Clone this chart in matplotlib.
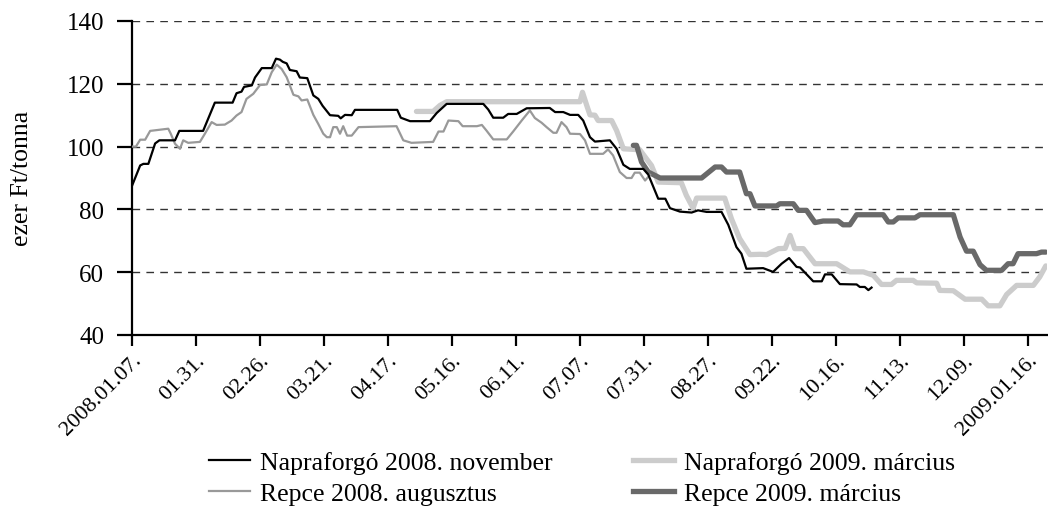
import matplotlib
matplotlib.use("Agg")
import matplotlib.pyplot as plt
from matplotlib.lines import Line2D

plt.rcParams['font.family'] = ['Liberation Serif', 'DejaVu Serif']

# x = trading day index from 2008.01.07 (ticks every 18 trading days)
tick_labels = ['2008.01.07.', '01.31.', '02.26.', '03.21.', '04.17.', '05.16.', '06.11.',
               '07.07.', '07.31.', '08.27.', '09.22.', '10.16.', '11.13.', '12.09.', '2009.01.16.']

# Napraforgó 2008. november
napr_nov_x = [0, 2.3, 3.2, 4.6, 6.5, 7.7, 12.1, 13.3, 20, 23.3, 28.3, 29.4, 30.8, 31.5, 33.7, 34.6,
              36.5, 39.3, 40.5, 41.6, 42.4, 43.5, 44.4, 46.3, 47.2, 49.3, 51, 52.4, 53.6, 55.7, 58,
              58.7, 59.9, 61.8, 62.7, 74.6, 75.6, 78.2, 83.8, 85.7, 88.5, 98.8, 100.2, 101.6, 104.4,
              105.8, 108.2, 111, 117.5, 119, 121.3, 123.2, 125.5, 126.9, 128.8, 130.2, 134.4, 136.3,
              138.2, 140, 143.8, 145.2, 148, 150, 151.3, 154.1, 157.4, 159.2, 161.6, 165.8, 167.7,
              170, 171.4, 172.8, 177.5, 180.3, 182.7, 184.8, 186.9, 187.9, 191.6, 194, 194.9, 196.8,
              199.1, 203.8, 204.7, 206.1, 207.1, 208]
napr_nov_y = [87.5, 94, 94.5, 94.5, 101, 102, 102, 105, 105, 114, 114, 117, 117.5, 119, 119.5, 122,
              125, 125, 128, 127.7, 127, 126.5, 124.4, 124, 122, 121.8, 116.3, 115.2, 113, 110, 109.8,
              109, 110.1, 110, 111.7, 111.7, 109.2, 108.1, 108.1, 110.7, 113.6, 113.6, 111.8, 109.2,
              109.2, 110.4, 110.4, 112.2, 112.3, 111, 111, 110.1, 110.1, 108.3, 103, 101.6, 102, 99.3,
              94.2, 92.9, 92.9, 91.1, 83.4, 83.4, 80.4, 79.3, 79, 79.7, 79.2, 79.2, 75.1,
              68, 65.9, 61.1, 61.3, 60.1, 62.7, 64.5, 61.7, 61.5, 57.1, 57.1, 59.3, 59.3,
              56.2, 56.1, 55.3, 55.3, 54.3, 55.1]

# Repce 2008. augusztus
repce_aug_x = [0, 1.1, 2.3, 3.7, 5.1, 10.2, 10.9, 12.1, 13.5, 14.4, 15.8, 19.1, 20.5, 22.4, 23.8,
               26.1, 28, 29.4, 30.8, 32.2, 34.1, 36, 37.9, 39.3, 40.7, 42.1, 43.5, 45.4, 46.8, 47.7,
               49.3, 51, 52.4, 53.8, 54.8, 55.7, 56.6, 57.6, 58.5, 59.4, 60.5, 61.8, 63.7, 74.4, 76.3,
               78.6, 84.7, 86.2, 87.6, 89, 91.8, 93, 97, 98.4, 99.7, 101.6, 105.4, 107.2, 109.6, 111.9,
               113.3, 115.2, 116.6, 118.5, 119.4, 120.8, 122.2, 123.2, 126, 127.4, 128.8, 132.5, 133.9,
               135.3, 137.2, 139.1, 140.5, 141.4, 142.8, 144.3, 145.7]
repce_aug_y = [100, 100, 102.2, 102.2, 105, 105.7, 104.1, 100.9, 99.3, 102, 101.2, 101.5, 104.1, 107.8,
               106.9, 107, 108.3, 109.9, 111, 115.2, 116.8, 119.6, 119.8, 123.7, 126.1, 124.7, 122.1,
               116.5, 116, 114.7, 115, 110.1, 107.2, 104.1, 103, 103, 106.2, 106.2, 104.1, 106.5,
               103.5, 103.5, 106.2, 106.5, 102, 101.2, 101.5, 104.8, 104.8, 108.3, 108.1, 106.5, 106.5,
               106.9, 105.1, 102.3, 102.3, 104.8, 108.3, 111.5, 109.1, 107.6, 106.2, 104.4, 104.4,
               107.8, 106.2, 104.1, 104, 102, 97.7, 97.7, 99.1, 97.2, 91.9, 90, 90, 91.7, 91.7, 89.2, 91]

# Napraforgó 2009. március
napr_mar_x = [80, 84.7, 86.6, 88.5, 126, 126.7, 127.9, 128.8, 130.2, 131.1, 134.9, 136.3, 138.2, 142.8,
              144.7, 146.1, 148, 154.5, 155.9, 157.8, 158.8, 166.7, 168.6, 170.9, 173.8, 176.6, 178.5,
              181.8, 183.7, 185.1, 186.4, 188.8, 192.1, 198.2, 201.9, 205.7, 208.5, 210.8, 213.6, 215,
              219.7, 220.7, 226.3, 227.2, 231, 234.3, 239, 240.8, 244.1, 246, 248.8, 253.5, 255.3, 257]
napr_mar_y = [111.2, 111.2, 113.1, 114.3, 114.3, 117.3, 113.1, 110.1, 110, 108.3, 108.3, 105.1, 99.3, 99,
              96.1, 94, 88.7, 88.5, 84.5, 80.4, 83.6, 83.6, 77, 70.7, 65.6, 65.7, 65.6, 67.5, 67.6, 71.7,
              67.5, 67.5, 62.7, 62.7, 60.1, 60.1, 59, 56.1, 56.1, 57.4, 57.4, 56.6, 56.5, 54.2, 54.1,
              51.4, 51.4, 49.3, 49.3, 52.9, 55.8, 55.8, 58.5, 62]

# Repce 2009. március
repce_mar_x = [141, 141.9, 143.3, 145.2, 148.5, 160.2, 164, 165.8, 167.2, 170.9, 172.8, 173.8, 175.2,
               181.3, 182.2, 186, 187.4, 189.7, 192.1, 194.4, 198.6, 200, 201.9, 203.8, 211.3, 212.7,
               214.1, 215.5, 220.2, 221.6, 231, 232.9, 234.7, 236.6, 238.5, 240.3, 244.6, 246.4, 247.8,
               249.2, 254.4, 255.8, 257]
repce_mar_y = [100.4, 100.4, 95.1, 91.9, 90, 90, 93.5, 93.5, 91.9, 91.9, 85, 85, 81.1, 81.1, 81.8, 81.8,
               79.7, 79.7, 75.8, 76.3, 76.3, 75.1, 75.1, 78.3, 78.3, 76, 76, 77.3, 77.3, 78.3, 78.3,
               71.2, 66.7, 66.7, 62.4, 60.6, 60.6, 62.7, 62.7, 65.9, 65.9, 66.4, 66.4]

fig = plt.figure(figsize=(10.48, 5.10), dpi=100)
ax = fig.add_axes([132 / 1048, 1 - 336 / 510, (1047 - 132) / 1048, (336 - 22) / 510])

ax.plot(napr_mar_x, napr_mar_y, color='#cccccc', lw=3.8, solid_capstyle='round', zorder=2)
ax.plot(repce_mar_x, repce_mar_y, color='#696969', lw=3.8, solid_capstyle='round', zorder=3)
ax.plot(repce_aug_x, repce_aug_y, color='#999999', lw=1.6, zorder=4)
ax.plot(napr_nov_x, napr_nov_y, color='black', lw=1.6, zorder=5)

ax.set_xlim(0, (1047 - 132) / (64 / 18))
ax.set_ylim(40, 140)
ax.set_yticks(range(40, 141, 20))
ax.set_xticks([18 * i for i in range(len(tick_labels))])
ax.set_xticklabels(tick_labels, rotation=45, ha='right', va='top', rotation_mode='anchor')

for v in range(60, 141, 20):
    ax.axhline(v, color='#333333', lw=1.0, ls=(0, (5.5, 4.5)), zorder=1)

for s in ['top', 'right']:
    ax.spines[s].set_visible(False)
ax.spines['left'].set_linewidth(1.6)
ax.spines['bottom'].set_linewidth(1.6)
ax.tick_params(axis='y', direction='out', length=11, width=1.6, labelsize=18, pad=9)
ax.tick_params(axis='x', direction='out', length=8, width=1.6, labelsize=16, pad=3)

fig.text(22 / 1048, 1 - 178 / 510, 'ezer Ft/tonna', rotation=90, ha='center', va='center', fontsize=18.5)

handles = [Line2D([], [], color='black', lw=1.6),
           Line2D([], [], color='#999999', lw=1.6),
           Line2D([], [], color='#cccccc', lw=3.8),
           Line2D([], [], color='#696969', lw=3.8)]
labels = ['Napraforgó 2008. november', 'Repce 2008. augusztus',
          'Napraforgó 2009. március', 'Repce 2009. március']
fig.legend(handles, labels, ncol=2, loc='center', bbox_to_anchor=(582 / 1048, 1 - 479 / 510),
           frameon=False, fontsize=18.5, handlelength=1.6, handletextpad=0.4,
           columnspacing=3.1, labelspacing=0.35)

fig.savefig('out.png', dpi=100)
